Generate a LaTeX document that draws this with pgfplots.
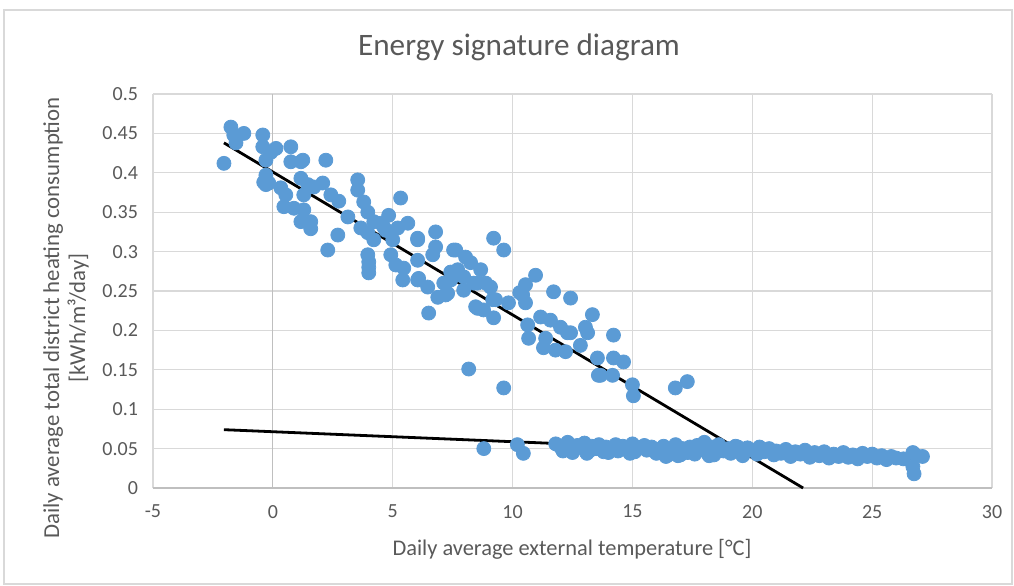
\documentclass[border=0pt]{standalone}
\usepackage{fontspec}
\setmainfont{Carlito}
\usepackage{pgfplots}
\pgfplotsset{compat=1.18}
\definecolor{ptblue}{HTML}{5B9BD5}
\definecolor{txt}{HTML}{595959}
\definecolor{grd}{HTML}{D9D9D9}
\definecolor{axl}{HTML}{BFBFBF}
\begin{document}
\begin{tikzpicture}[x=1pt,y=1pt]
\useasboundingbox (0,0) rectangle (507,292.5);
\draw[grd, line width=0.7pt] (2,0.5) rectangle (506,287.5);
\node[txt, font=\fontsize{15.6}{18}\selectfont] at (259.5,269) {Energy signature diagram};
\node[txt, font=\fontsize{11.2}{13}\selectfont] at (286,18) {Daily average external temperature [°C]};
\node[txt, font=\fontsize{11.4}{13}\selectfont, rotate=90, align=center] at (33,133.5) {Daily average total district heating consumption\\[0pt][kWh/m³/day]};
\begin{axis}[
  at={(76.5pt,48.5pt)}, anchor=south west,
  scale only axis, width=419.5pt, height=197pt,
  xmin=-5, xmax=30, ymin=0, ymax=0.5,
  xtick={-5,0,5,10,15,20,25,30},
  ytick={0,0.05,0.1,0.15,0.2,0.25,0.3,0.35,0.4,0.45,0.5},
  grid=major, grid style={grd, line width=0.6pt},
  axis line style={draw=none}, tick style={draw=none},
  ticklabel style={txt, font=\fontsize{10}{12}\selectfont},
  yticklabel style={/pgf/number format/fixed, /pgf/number format/precision=2, /pgf/number format/assume math mode=true, anchor=east, xshift=-4pt},
  xticklabel style={/pgf/number format/assume math mode=true, anchor=north, yshift=-5pt},
  clip=false,
]
\addplot[axl, line width=0.6pt, forget plot] coordinates {(0,0) (0,0.5)};
\addplot[axl, line width=0.6pt, forget plot] coordinates {(-5,0) (30,0)};
\addplot[only marks, mark=*, mark size=3.5pt, mark options={fill=ptblue, draw=ptblue}] coordinates {
(-2.04,0.412) (-1.75,0.458) (-1.63,0.448) (-1.21,0.450) (-1.54,0.438)
(-0.42,0.448) (-0.42,0.433) (-0.08,0.426) (0.13,0.431) (-0.29,0.416)
(0.75,0.433) (0.75,0.414) (1.17,0.414) (1.25,0.416) (2.21,0.416)
(-0.29,0.397) (-0.38,0.388) (-0.29,0.385) (-0.17,0.387) (0.33,0.381)
(0.54,0.372) (1.17,0.393) (1.46,0.385) (1.29,0.372) (0.46,0.357)
(0.88,0.355) (1.29,0.353) (1.17,0.338) (1.58,0.338) (1.58,0.329)
(1.71,0.382) (2.08,0.387) (2.42,0.372) (2.75,0.364) (2.71,0.321)
(2.29,0.302) (3.54,0.391) (3.54,0.378) (3.79,0.363) (3.96,0.350)
(3.67,0.330) (4.21,0.338) (4.83,0.346) (4.63,0.331) (3.96,0.296)
(4.0,0.287) (4.0,0.280) (4.0,0.273) (4.92,0.296) (5.33,0.368)
(3.13,0.344) (3.96,0.324) (4.21,0.315) (4.5,0.336) (4.71,0.327)
(5.21,0.330) (5.63,0.336) (6.79,0.325) (6.04,0.317) (6.79,0.306)
(5.0,0.315) (5.13,0.283) (5.46,0.279) (5.42,0.264) (6.08,0.266)
(6.46,0.255) (6.04,0.289) (6.67,0.296) (7.63,0.302) (8.04,0.293)
(8.25,0.286) (7.42,0.274) (7.71,0.277) (7.96,0.268) (8.67,0.277)
(8.38,0.260) (7.13,0.260) (7.21,0.245) (6.88,0.242) (6.5,0.222)
(8.46,0.230) (8.79,0.226) (9.17,0.239) (9.21,0.317) (8.88,0.260)
(9.63,0.302) (6.04,0.315) (7.54,0.302) (6.04,0.264) (7.29,0.247)
(7.42,0.264) (7.96,0.251) (8.54,0.260) (9.08,0.255) (9.29,0.239)
(9.83,0.235) (8.54,0.228) (9.21,0.216) (8.17,0.151) (10.42,0.245)
(10.54,0.258) (10.96,0.270) (10.54,0.235) (11.71,0.249) (12.42,0.241)
(13.33,0.220) (13.04,0.204) (13.13,0.197) (11.17,0.217) (11.58,0.213)
(12.0,0.204) (12.29,0.197) (10.63,0.207) (10.67,0.190) (11.29,0.178)
(11.79,0.175) (12.21,0.173) (12.83,0.181) (13.54,0.165) (13.58,0.143)
(10.3,0.248) (12.42,0.197) (11.38,0.190) (14.21,0.194) (14.21,0.165)
(14.63,0.160) (13.67,0.143) (14.17,0.143) (15.0,0.131) (15.04,0.117)
(16.79,0.127) (17.29,0.135) (9.63,0.127)
(8.8,0.050) (10.2,0.055) (10.45,0.044)
(11.8,0.056) (12.0,0.052) (12.3,0.058) (12.4,0.049) (12.5,0.045)
(12.7,0.054) (12.9,0.051) (13.0,0.057) (13.2,0.047) (13.3,0.053)
(13.5,0.050) (13.6,0.055) (13.8,0.046) (13.9,0.052) (14.1,0.049)
(14.3,0.055) (14.4,0.047) (14.6,0.053) (14.8,0.050) (15.0,0.056)
(15.1,0.046) (15.3,0.051) (15.5,0.054) (15.6,0.048) (15.8,0.052)
(16.0,0.044) (16.1,0.049) (16.3,0.053) (16.5,0.042) (16.6,0.047)
(16.8,0.055) (16.9,0.041) (17.1,0.050) (17.3,0.045) (17.4,0.052)
(17.6,0.043) (17.8,0.048) (18.0,0.058) (18.1,0.046) (18.3,0.052)
(18.4,0.042) (18.6,0.055) (18.8,0.047) (19.0,0.050) (19.1,0.044)
(19.3,0.053) (19.5,0.046) (19.6,0.041) (19.8,0.051) (20.0,0.048)
(20.2,0.043) (20.3,0.052) (20.5,0.046) (20.7,0.050) (20.9,0.042)
(21.0,0.047) (21.2,0.044) (21.4,0.049) (21.6,0.040) (21.8,0.046)
(22.0,0.043) (22.2,0.048) (22.4,0.039) (22.6,0.045) (22.8,0.041)
(23.0,0.046) (23.2,0.038) (23.4,0.043) (23.6,0.040) (23.8,0.045)
(24.0,0.039) (24.2,0.042) (24.4,0.037) (24.6,0.044) (24.8,0.040)
(25.0,0.043) (25.2,0.038) (25.4,0.041) (25.6,0.036) (25.8,0.040)
(26.0,0.038) (26.3,0.037) (26.7,0.045) (26.7,0.027) (26.75,0.018)
(26.8,0.042) (27.1,0.040)
(12.1,0.047) (13.1,0.044) (14.0,0.045) (14.9,0.044) (15.9,0.047)
(16.4,0.040) (17.0,0.042) (17.7,0.054) (18.2,0.041) (19.4,0.052)
};
\addplot[black, line width=1.4pt] coordinates {(-2.04,0.438) (22.12,0)};
\addplot[black, line width=1.4pt] coordinates {(-2.04,0.074) (27.2,0.037)};
\end{axis}
\end{tikzpicture}
\end{document}
